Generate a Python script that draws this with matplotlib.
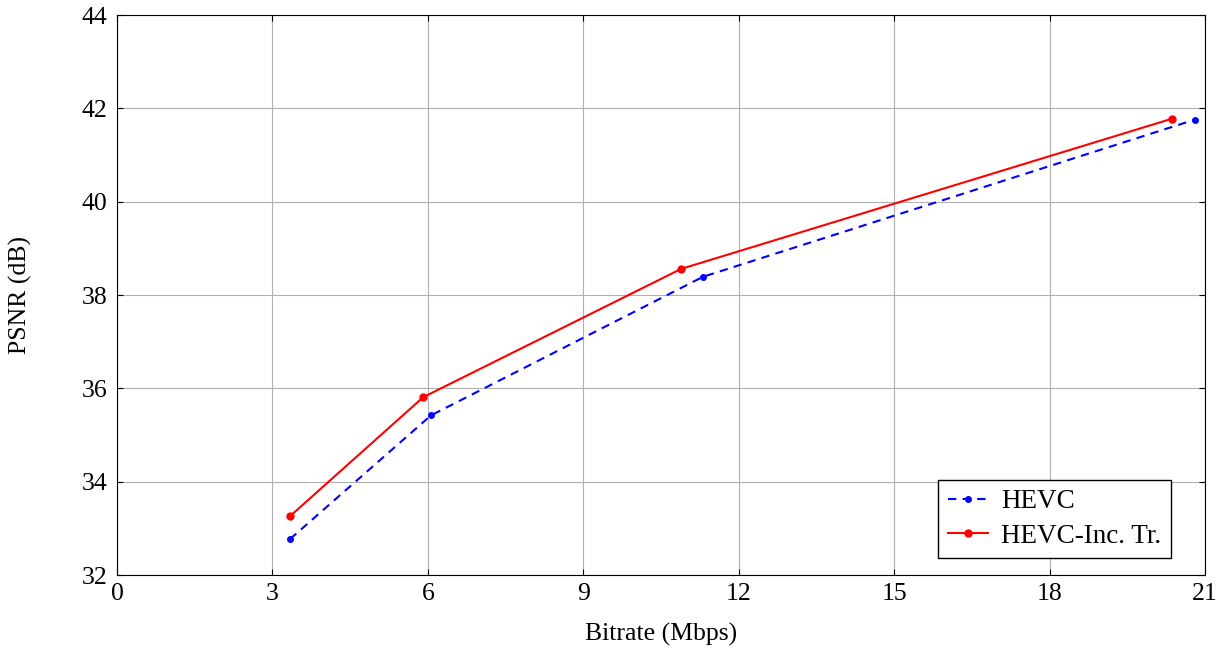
import matplotlib
matplotlib.use('Agg')
import matplotlib.pyplot as plt

bitrate_hevc = [3.34, 6.06, 11.31, 20.81]
psnr_hevc = [32.77, 35.42, 38.39, 41.76]
bitrate_inc = [3.34, 5.91, 10.89, 20.37]
psnr_inc = [33.26, 35.81, 38.56, 41.78]

x_ticks = [0, 3, 6, 9, 12, 15, 18, 21]
y_ticks = [32, 34, 36, 38, 40, 42, 44]

plt.rcParams['font.family'] = ['Liberation Serif', 'DejaVu Serif']

fig = plt.figure(figsize=(12.24, 6.53), dpi=100)
ax = fig.add_axes([117 / 1224, 1 - 575 / 653, (1205 - 117) / 1224, (575 - 15) / 653])

ax.plot(bitrate_hevc, psnr_hevc, '--', color='blue', marker='o', markersize=4,
        linewidth=1.5, dashes=(4, 3), label='HEVC')
ax.plot(bitrate_inc, psnr_inc, '-', color='red', marker='o', markersize=5,
        linewidth=1.5, label='HEVC-Inc. Tr.')

ax.set_xlim(0, 21)
ax.set_ylim(32, 44)
ax.set_xticks(x_ticks)
ax.set_yticks(y_ticks)
ax.grid(True, color='#b0b0b0', linewidth=0.8)
ax.tick_params(direction='in', labelsize=18.5, top=True, right=True, length=4)
ax.tick_params(axis='x', pad=6)
ax.tick_params(axis='y', pad=7)
for s in ax.spines.values():
    s.set_linewidth(0.8)

ax.set_xlabel('Bitrate (Mbps)', fontsize=18.5)
ax.set_ylabel('PSNR (dB)', fontsize=18.5)
ax.xaxis.set_label_coords(0.5, -0.085)
ax.yaxis.label.set_va('center')
ax.yaxis.set_label_coords(-0.089, 0.5)

ax.legend(loc='lower right', bbox_to_anchor=((1171 - 117) / 1088, (575 - 558) / 560),
          fontsize=19.5, fancybox=False, edgecolor='black', framealpha=1,
          borderaxespad=0, handlelength=1.5, handletextpad=0.48,
          borderpad=0.35, labelspacing=0.35)

fig.savefig('out.png', dpi=100)
